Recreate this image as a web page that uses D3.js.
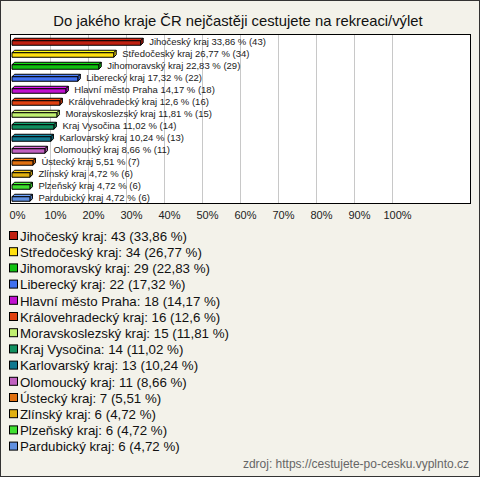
<!DOCTYPE html>
<html><head><meta charset="utf-8">
<script src="https://cdn.jsdelivr.net/npm/d3@7"></script>
<style>
body{margin:0;padding:0;background:#fff;}
svg{display:block;font-family:"Liberation Sans",Arial,sans-serif;}
</style></head>
<body>
<svg id="c" width="480" height="477"></svg>
<script>
const categories = ["Jihočeský kraj","Středočeský kraj","Jihomoravský kraj","Liberecký kraj","Hlavní město Praha","Královehradecký kraj","Moravskoslezský kraj","Kraj Vysočina","Karlovarský kraj","Olomoucký kraj","Ústecký kraj","Zlínský kraj","Plzeňský kraj","Pardubický kraj"];
const counts = [43,34,29,22,18,16,15,14,13,11,7,6,6,6];
const percents = [33.86,26.77,22.83,17.32,14.17,12.6,11.81,11.02,10.24,8.66,5.51,4.72,4.72,4.72];
const percentLabels = ["33,86","26,77","22,83","17,32","14,17","12,6","11,81","11,02","10,24","8,66","5,51","4,72","4,72","4,72"];
const colors = ["#c02010","#ffe010","#10c010","#4070f0","#c010d0","#e04010","#c0f070","#109060","#107890","#c060c0","#e07010","#e0b010","#40e030","#6090e0"];
const ticks = [0,10,20,30,40,50,60,70,80,90,100];
const title = "Do jakého kraje ČR nejčastěji cestujete na rekreaci/výlet";
const source = "zdroj: https://cestujete-po-cesku.vyplnto.cz";

const svg = d3.select("#c");
svg.append("rect").attr("x",0.5).attr("y",0.5).attr("width",479).attr("height",476)
  .attr("fill","#f3f2ea").attr("stroke","#333");

svg.append("text").attr("x",238).attr("y",26).attr("text-anchor","middle")
  .attr("font-size",14.8).attr("fill","#111").text(title);

const plot = {x:10, y:34, w:460, h:169};
svg.append("rect").attr("x",plot.x+0.5).attr("y",plot.y+0.5).attr("width",plot.w).attr("height",plot.h)
  .attr("fill","#fff").attr("stroke","#000");

const x = d3.scaleLinear().domain([0,100]).range([12,392]);
const y = d3.scaleBand().domain(categories).range([35,203]).paddingInner(0).paddingOuter(0);

// gridlines
svg.append("g").selectAll("line").data(ticks.filter(t=>t>0)).join("line")
  .attr("x1",d=>Math.round(x(d))+0.5).attr("x2",d=>Math.round(x(d))+0.5)
  .attr("y1",plot.y+1).attr("y2",plot.y+plot.h)
  .attr("stroke","#c8c8c8").attr("stroke-width",1);

// axis labels
const axis = d3.axisBottom(x).tickValues(ticks).tickFormat(d=>d+"%").tickSize(0);
const ag = svg.append("g").attr("transform","translate(0,208)").call(axis);
ag.select(".domain").remove();
ag.selectAll("text").attr("font-size",11).attr("fill","#222").attr("font-family","Liberation Sans, Arial, sans-serif").attr("dy","0.71em");
ag.selectAll(".tick text").attr("x",5);

// 3D bars
const depth = 2.5, bh = 4.5;
const bars = svg.append("g");
categories.forEach((c,i)=>{
  const x0 = x(0), x1 = x(percents[i]);
  const cy = y(c) + y.bandwidth()/2 + 1;
  const top = cy - bh/2 + 1, bot = top + bh;
  const col = colors[i];
  const g = bars.append("g").attr("stroke","#000").attr("stroke-width",1).attr("stroke-linejoin","round");
  g.append("path").attr("d",`M${x0},${top} L${x0+depth},${top-depth} L${x1+depth},${top-depth} L${x1},${top} Z`)
    .attr("fill",d3.color(col).brighter(0.4));
  g.append("path").attr("d",`M${x1},${top} L${x1+depth},${top-depth} L${x1+depth},${bot-depth} L${x1},${bot} Z`)
    .attr("fill",d3.color(col).darker(0.4));
  g.append("rect").attr("x",x0).attr("y",top).attr("width",x1-x0).attr("height",bh).attr("fill",col);
  svg.append("text").attr("x",x1+depth+6).attr("y",cy).attr("dy","0.32em")
    .attr("font-size",9.5).attr("fill","#222")
    .text(`${c} ${percentLabels[i]} % (${counts[i]})`);
});

// legend
const lg = svg.append("g");
categories.forEach((c,i)=>{
  const cy = 236 + i*16.2;
  lg.append("rect").attr("x",9.5).attr("y",cy-4.5).attr("width",8).attr("height",8)
    .attr("fill",colors[i]).attr("stroke","#000").attr("stroke-width",1);
  lg.append("text").attr("x",20).attr("y",cy).attr("dy","0.36em").attr("font-size",13.3)
    .attr("fill","#111").text(`${c}: ${counts[i]} (${percentLabels[i]} %)`);
});

svg.append("text").attr("x",469).attr("y",468).attr("text-anchor","end")
  .attr("font-size",12).attr("fill","#666").text(source);
</script>
</body></html>
